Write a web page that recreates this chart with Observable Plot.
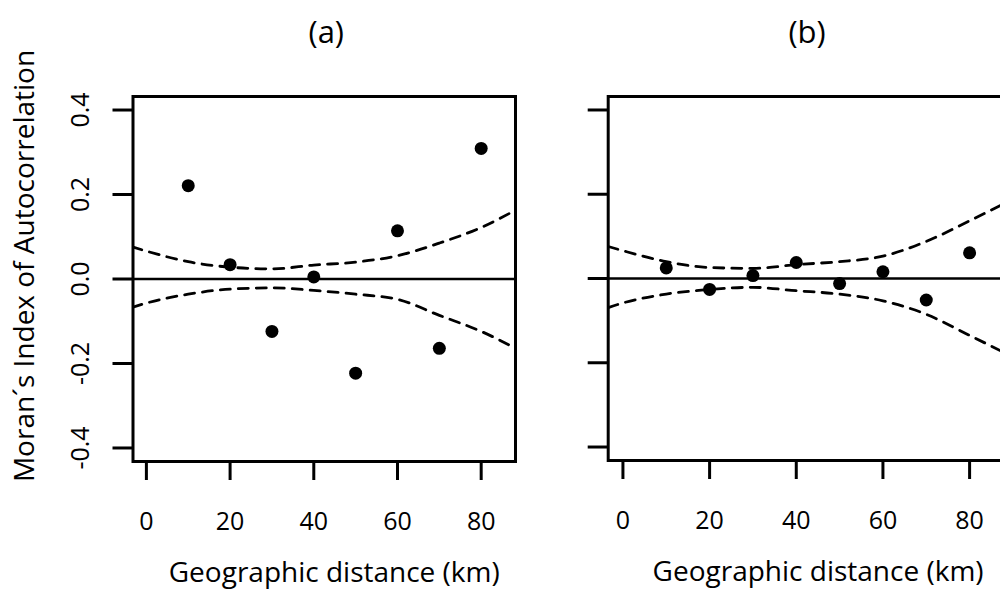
<!DOCTYPE html>
<html>
<head>
<meta charset="utf-8">
<script src="https://cdn.jsdelivr.net/npm/d3@7"></script>
<script src="https://cdn.jsdelivr.net/npm/@observablehq/plot@0.6"></script>
<style>
html, body { margin: 0; padding: 0; background: #fff; overflow: hidden; }
#wrap { position: relative; width: 1000px; height: 589px; overflow: hidden; background: #fff; }
#wrap svg { position: absolute; top: 0; }
</style>
</head>
<body>
<div id="wrap"></div>
<script>
// ---- data ----
const panelTitles = ["(a)", "(b)"];
const xLabel = "Geographic distance (km)";
const yLabel = "Moran´s Index of Autocorrelation";
const xTicks = [0, 20, 40, 60, 80];
const yTicks = [-0.4, -0.2, 0, 0.2, 0.4];

const distances = [10, 20, 30, 40, 50, 60, 70, 80];
const moranA = [0.221, 0.034, -0.124, 0.005, -0.223, 0.114, -0.164, 0.309];
const moranB = [0.025, -0.026, 0.007, 0.038, -0.012, 0.016, -0.051, 0.061];

const envelopeX = [-3.4, 0, 10, 20, 30, 40, 50, 60, 70, 80, 88.4];
const upperA = [0.076, 0.066, 0.041, 0.028, 0.024, 0.033, 0.040, 0.055, 0.085, 0.122, 0.164];
const lowerA = [-0.067, -0.057, -0.036, -0.024, -0.021, -0.027, -0.036, -0.048, -0.086, -0.124, -0.165];
const upperB = [0.076, 0.066, 0.040, 0.026, 0.024, 0.033, 0.040, 0.053, 0.088, 0.137, 0.180];
const lowerB = [-0.069, -0.058, -0.037, -0.026, -0.021, -0.029, -0.037, -0.053, -0.085, -0.135, -0.178];

function panel(cfg) {
  const pts = distances.map((d, i) => ({d, v: cfg.values[i]}));
  const env = envelopeX.map((d, i) => ({d, u: cfg.upper[i], l: cfg.lower[i]}));
  const lineOpts = {stroke: "#000", strokeWidth: 2.8, strokeDasharray: "10,8", curve: "monotone-x", clip: true};
  const marks = [
    Plot.ruleY([0], {stroke: "#000", strokeWidth: 2.7}),
    Plot.line(env, {x: "d", y: "u", ...lineOpts}),
    Plot.line(env, {x: "d", y: "l", ...lineOpts}),
    Plot.dot(pts, {x: "d", y: "v", r: 6.5, fill: "#000", stroke: null}),
    Plot.frame({stroke: "#000", strokeWidth: 3}),
    Plot.axisX({ticks: xTicks, label: null, tickSize: 19, tickPadding: 32, strokeWidth: 3, fontSize: 25, tickFormat: d => String(d)}),
    Plot.axisY({ticks: yTicks, label: null, tickSize: 20, tickPadding: 24, tickRotate: -90, strokeWidth: 3, fontSize: 25,
      tickFormat: cfg.yLabels ? (d => d.toFixed(1)) : (() => "")}),
    Plot.text([cfg.title], {text: d => d, frameAnchor: "top", lineAnchor: "middle", textAnchor: "middle", dy: -63, dx: cfg.titleDx, fontSize: 31}),
    Plot.text([xLabel], {text: d => d, frameAnchor: "bottom", lineAnchor: "middle", textAnchor: "middle", dy: 112, dx: cfg.labelDx, fontSize: 28})
  ];
  if (cfg.yLabels) {
    marks.push(Plot.text([yLabel], {text: d => d, frameAnchor: "left", textAnchor: "middle", lineAnchor: "middle", rotate: -90, dx: -108, dy: -13, fontSize: 28}));
  }
  const svg = Plot.plot({
    width: cfg.width,
    height: 589,
    marginLeft: cfg.marginLeft,
    marginRight: cfg.marginRight,
    marginTop: 96,
    marginBottom: cfg.marginBottom,
    x: {domain: cfg.xDomain},
    y: {domain: [-0.432, 0.432]},
    style: {fontFamily: "'Open Sans', sans-serif", background: "transparent", color: "#000", overflow: "visible"},
    marks
  });
  svg.style.left = cfg.left + "px";
  return svg;
}

const wrap = document.getElementById("wrap");
wrap.appendChild(panel({
  values: moranA, upper: upperA, lower: lowerA, title: panelTitles[0],
  width: 540, left: 0, marginLeft: 132.5, marginRight: 25, marginBottom: 128,
  xDomain: [-3.2, 88.2], yLabels: true, titleDx: 2, labelDx: 10
}));
wrap.appendChild(panel({
  values: moranB, upper: upperB, lower: lowerB, title: panelTitles[1],
  width: 490, left: 540, marginLeft: 67.7, marginRight: 24.5, marginBottom: 129,
  xDomain: [-3.4, 88.4], yLabels: false, titleDx: 0, labelDx: 11
}));
</script>
</body>
</html>
